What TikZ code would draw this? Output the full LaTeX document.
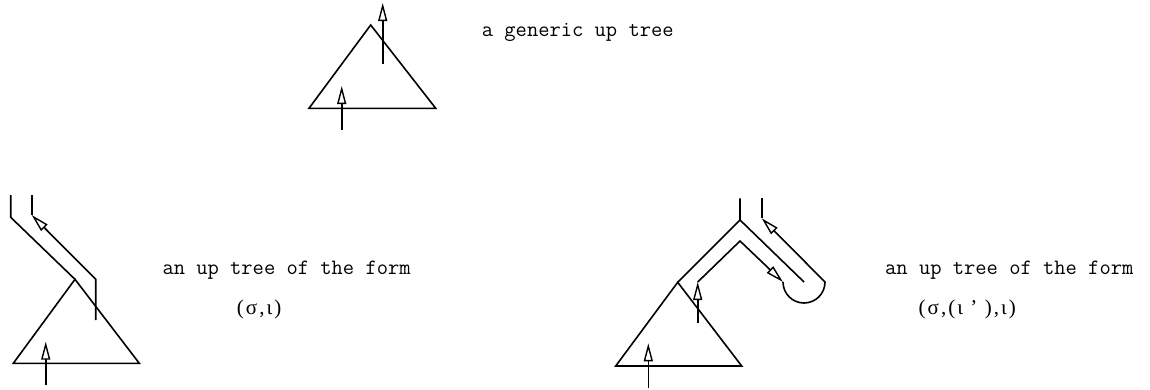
\documentclass[tikz,border=0pt]{standalone}
\usepackage{fontspec}
\setmainfont{Liberation Serif}
\usepackage{tikz}
\usetikzlibrary{arrows.meta}

\begin{document}
\begin{tikzpicture}[
  x=1pt,y=-1pt,
  treeline/.style={draw=black,line width=1.6pt},
  arrow/.style={treeline,-{Triangle[open,length=18pt,width=9pt,line width=1.4pt]}},
  caption/.style={anchor=base west,inner sep=0pt,font=\ttfamily\fontsize{21.9}{24}\selectfont},
  form/.style={anchor=base west,inner sep=0pt,
    font=\fontsize{21}{24}\selectfont\addfontfeatures{LetterSpace=10}}
]
\useasboundingbox (0,0) rectangle (1150,389);

% generic up tree
\coordinate (gapex) at (370.7,25);
\coordinate (gleft) at (309,108.3);
\coordinate (gright) at (435.7,108.3);
\coordinate (gin0) at (341.7,130);
\coordinate (gin1) at (341.7,86);
\coordinate (gout0) at (382.7,64);
\coordinate (gout1) at (382.7,3);
\draw[treeline] (gapex) -- (gleft) -- (gright) -- cycle;
\draw[arrow] (gin0) -- (gin1);
\draw[arrow] (gout0) -- (gout1);
\node[caption] (gtext) at (481.7,36) {a generic up tree};

% up tree (sigma,iota)
\coordinate (sapex) at (75,279.3);
\coordinate (sleft) at (13.3,363.3);
\coordinate (sright) at (139.3,363.3);
\coordinate (sin0) at (45.7,385);
\coordinate (sin1) at (45.7,341.7);
\coordinate (stop) at (10.7,195);
\coordinate (sbend) at (10.7,217.3);
\coordinate (sret0) at (95.7,320);
\coordinate (sret1) at (95.7,279.3);
\coordinate (sret2) at (31.7,215);
\coordinate (sret3) at (31.7,195);
\draw[treeline] (sapex) -- (sleft) -- (sright) -- cycle;
\draw[arrow] (sin0) -- (sin1);
\draw[treeline] (stop) -- (sbend) -- (sapex);
\draw[arrow] (sret0) -- (sret1) -- (sret2);
\draw[treeline] (sret2) -- (sret3);
\node[caption] (stext) at (162.3,274) {an up tree of the form};
\node[form] (sform) at (236.7,314) {(σ,ι)};

% up tree (sigma,(iota'),iota)
\coordinate (rapex) at (677.7,282.3);
\coordinate (rleft) at (615.7,366);
\coordinate (rright) at (741.7,366);
\coordinate (rin0) at (648.3,388.3);
\coordinate (rin1) at (648.3,343.3);
\coordinate (rfork) at (740,220);
\coordinate (rtop) at (740,198.3);
\coordinate (rmid) at (804,282);
\coordinate (rup0) at (697.7,323.3);
\coordinate (rup1) at (697.7,282);
\coordinate (rpeak) at (740,241);
\coordinate (rloop) at (783,282);
\coordinate (rback) at (761.7,218.3);
\coordinate (rback1) at (761.7,198.3);
\draw[treeline] (rapex) -- (rleft) -- (rright) -- cycle;
\draw[arrow] (rin0) -- (rin1);
\draw[treeline] (rapex) -- (rfork) -- (rtop);
\draw[treeline] (rfork) -- (rmid);
\draw[arrow] (rup0) -- (rup1);
\draw[arrow] (rup1) -- (rpeak) -- (rloop);
\draw[arrow] (rloop) arc[start angle=180,end angle=360,radius=21pt] -- (rback);
\draw[treeline] (rback) -- (rback1);
\node[caption] (rtext) at (885,274) {an up tree of the form};
\node[form] (rform) at (918.3,314) {(σ,(ι ’ ),ι)};
\end{tikzpicture}
\end{document}
